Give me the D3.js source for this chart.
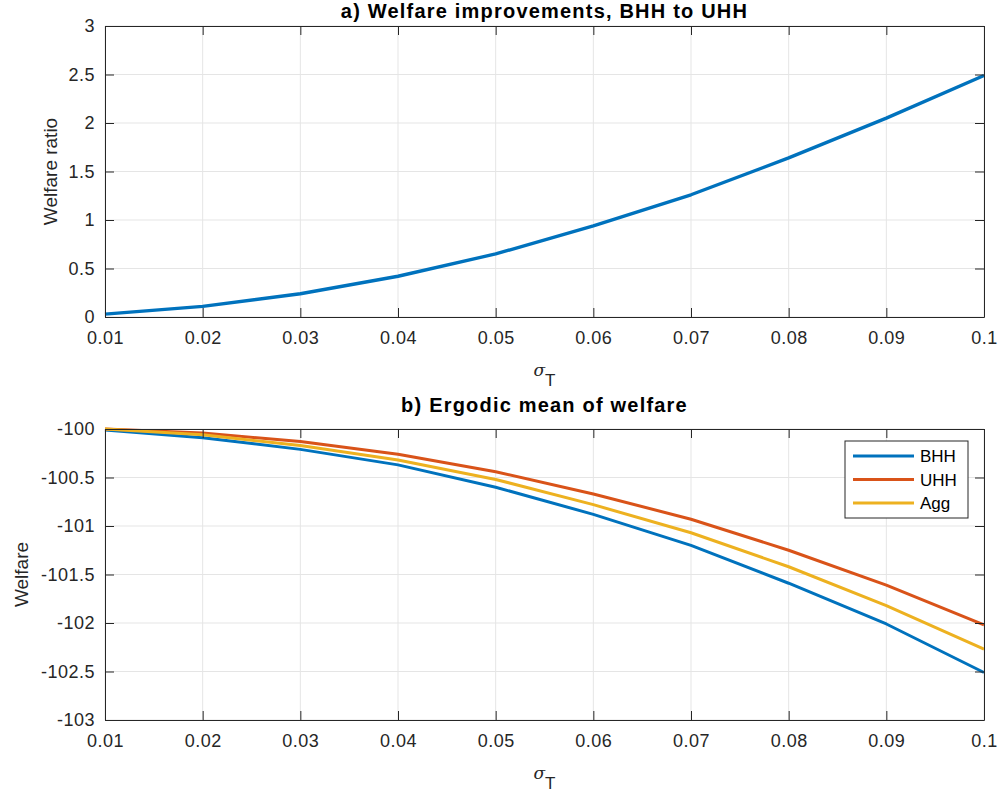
<!DOCTYPE html>
<html>
<head>
<meta charset="utf-8">
<script src="https://cdn.jsdelivr.net/npm/d3@7"></script>
<style>
  body { margin: 0; background: #fff; }
  svg text { font-family: "Liberation Sans", Arial, Helvetica, sans-serif; }
</style>
</head>
<body>
<svg class="plot" width="1000" height="796"></svg>
<script>
// sigma_T grid
var sigmaT = [0.01, 0.02, 0.03, 0.04, 0.05, 0.06, 0.07, 0.08, 0.09, 0.1];

// panel a) welfare ratio
var welfareRatio = [0.03, 0.11, 0.24, 0.42, 0.65, 0.94, 1.26, 1.64, 2.05, 2.49];

// panel b) ergodic mean of welfare
var welfareBHH = [-100.01, -100.09, -100.21, -100.37, -100.60, -100.88, -101.20, -101.59, -102.01, -102.51];
var welfareUHH = [-100.00, -100.04, -100.13, -100.26, -100.44, -100.67, -100.93, -101.25, -101.61, -102.02];
var welfareAgg = [-100.00, -100.06, -100.17, -100.32, -100.52, -100.78, -101.07, -101.42, -101.82, -102.27];

var xTicks = [0.01, 0.02, 0.03, 0.04, 0.05, 0.06, 0.07, 0.08, 0.09, 0.1];
var yTicksA = [0, 0.5, 1, 1.5, 2, 2.5, 3];
var yTicksB = [-103, -102.5, -102, -101.5, -101, -100.5, -100];

var colors = ["#0072BD", "#D95319", "#EDB120"];
var axisColor = "#262626";
var gridColor = "#e5e5e5";

var left = 105, right = 984;
var svg = d3.select(".plot");

// plain hyphen minus like matlab
var fmt = d => d3.format("~g")(d).replace("\u2212", "-");

function panel(opts) {
  var x = d3.scaleLinear().domain([0.01, 0.1]).range([left, right]);
  var y = d3.scaleLinear().domain(opts.yDomain).range([opts.bottom, opts.top]);
  var g = svg.append("g");

  // grid
  g.selectAll(".gx").data(xTicks).enter().append("line")
    .attr("x1", d => x(d)).attr("x2", d => x(d))
    .attr("y1", opts.top).attr("y2", opts.bottom)
    .attr("stroke", gridColor).attr("stroke-width", 1);
  g.selectAll(".gy").data(opts.yTicks).enter().append("line")
    .attr("x1", left).attr("x2", right)
    .attr("y1", d => y(d)).attr("y2", d => y(d))
    .attr("stroke", gridColor).attr("stroke-width", 1);

  // lines
  var line = d3.line().x((d, i) => x(sigmaT[i])).y(d => y(d));
  opts.series.forEach(function(s) {
    g.append("path").datum(s.values)
      .attr("d", line)
      .attr("fill", "none")
      .attr("stroke", s.color)
      .attr("stroke-width", opts.lw)
      .attr("stroke-linejoin", "round");
  });

  // axes: inward ticks, mirrored on top and right
  var ax = [
    g.append("g").attr("transform", `translate(0,${opts.bottom})`)
      .call(d3.axisBottom(x).tickValues(xTicks).tickSizeInner(-9).tickSizeOuter(0).tickPadding(14).tickFormat(fmt)),
    g.append("g").attr("transform", `translate(0,${opts.top})`)
      .call(d3.axisTop(x).tickValues(xTicks).tickSizeInner(-9).tickSizeOuter(0).tickFormat("")),
    g.append("g").attr("transform", `translate(${left},0)`)
      .call(d3.axisLeft(y).tickValues(opts.yTicks).tickSizeInner(-9).tickSizeOuter(0).tickPadding(10).tickFormat(fmt)),
    g.append("g").attr("transform", `translate(${right},0)`)
      .call(d3.axisRight(y).tickValues(opts.yTicks).tickSizeInner(-9).tickSizeOuter(0).tickFormat(""))
  ];
  ax.forEach(function(a) {
    a.select(".domain").attr("stroke", axisColor);
    a.selectAll(".tick line").attr("stroke", axisColor);
    a.selectAll(".tick text").attr("fill", axisColor)
      .style("font-size", "18px").style("letter-spacing", "0.5px");
  });

  // title
  g.append("text")
    .attr("x", (left + right) / 2).attr("y", opts.titleY)
    .attr("text-anchor", "middle")
    .style("font-size", "20px").style("font-weight", "bold")
    .style("letter-spacing", "1.2px")
    .attr("fill", "#000")
    .text(opts.title);

  // x label
  var xl = g.append("text")
    .attr("x", (left + right) / 2).attr("y", opts.bottom + 59)
    .attr("text-anchor", "middle").attr("fill", axisColor);
  xl.append("tspan").style("font-family", "DejaVu Serif, serif").style("font-style", "italic")
    .style("font-size", "17px").text("σ");
  xl.append("tspan").attr("dy", 10).style("font-size", "17px").text("T");

  // y label
  g.append("text")
    .attr("transform", `translate(${opts.ylabX},${(opts.top + opts.bottom) / 2}) rotate(-90)`)
    .attr("text-anchor", "middle").attr("fill", axisColor)
    .style("font-size", "19px")
    .text(opts.ylabel);

  return {x: x, y: y, g: g};
}

panel({
  top: 26, bottom: 317, yDomain: [0, 3], yTicks: yTicksA, lw: 3.4, titleY: 17.5,
  title: "a) Welfare improvements, BHH to UHH", ylabel: "Welfare ratio", ylabX: 57,
  series: [{values: welfareRatio, color: colors[0]}]
});

var names = ["BHH", "UHH", "Agg"];
panel({
  top: 429, bottom: 720, yDomain: [-103, -100], yTicks: yTicksB, lw: 3, titleY: 411.5,
  title: "b) Ergodic mean of welfare", ylabel: "Welfare", ylabX: 28,
  series: [
    {values: welfareBHH, color: colors[0]},
    {values: welfareUHH, color: colors[1]},
    {values: welfareAgg, color: colors[2]}
  ]
});

// legend
var lg = svg.append("g").attr("transform", "translate(845,441)");
lg.append("rect").attr("width", 123).attr("height", 77)
  .attr("fill", "#fff").attr("stroke", axisColor).attr("stroke-width", 1);
names.forEach(function(n, i) {
  var yy = 15 + i * 23.5;
  lg.append("line").attr("x1", 8).attr("x2", 69).attr("y1", yy).attr("y2", yy)
    .attr("stroke", colors[i]).attr("stroke-width", 3);
  lg.append("text").attr("x", 75).attr("y", yy + 6)
    .style("font-size", "17px").attr("fill", "#000").text(n);
});
</script>
</body>
</html>
